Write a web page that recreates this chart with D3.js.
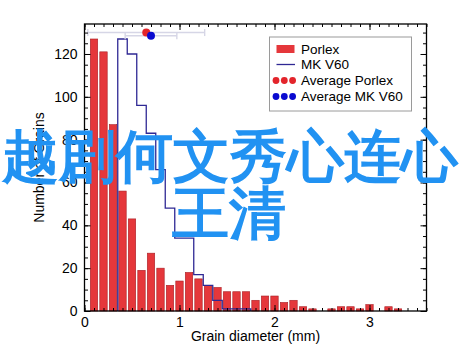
<!DOCTYPE html>
<meta charset="utf-8">
<style>
  body { margin: 0; background: #fff; }
  text { font-family: "Liberation Sans", Arial, sans-serif; }
</style>
<body>
<svg width="460" height="354"></svg>
<script src="https://cdn.jsdelivr.net/npm/d3@7/dist/d3.min.js"></script>
<script>
  // Porlex histogram (bin centres, mm)
  var porlexCenters = [0.1, 0.2, 0.3, 0.4, 0.5, 0.6, 0.7, 0.8, 0.9, 1.0, 1.1, 1.2, 1.3, 1.4, 1.5, 1.6, 1.7,
    1.8, 1.9, 2.0, 2.1, 2.2, 2.3, 2.4, 2.5, 2.6, 2.7, 2.8, 2.9, 3.0, 3.1, 3.2, 3.3, 3.4];
  var porlexCounts = [127, 121, 87, 56, 43, 19, 27, 20, 12, 14, 18, 15, 12, 11, 9, 9, 9,
    5, 7, 7, 4, 5, 2, 1, 0, 1, 2, 2, 1, 3, 0, 2, 1, 0];

  // MK V60 step histogram (bin lower edges, mm)
  var mkEdges = [0.35, 0.45, 0.55, 0.65, 0.75, 0.85, 0.95, 1.05, 1.15, 1.25, 1.35, 1.45, 1.55, 1.65];
  var mkCounts = [127, 120, 96, 83, 66, 48, 34, 34, 17, 12, 5, 1, 1, 1];
  var mkBinWidth = 0.1;

  // averages with spread
  var avgNames = ['Average Porlex', 'Average MK V60'];
  var avgMeans = [0.65, 0.70];
  var avgSpread = [0.615, 0.272];
  var avgLevels = [130, 128.5];
  var avgColors = ['#e3242b', '#0a0ad0'];

  var xTicks = [0, 1, 2, 3];
  var yTicks = [0, 20, 40, 60, 80, 100, 120];

  var barColor = '#e5373b';
  var lineColor = '#2f2894';

  var svg = d3.select('svg');
  var x = d3.scaleLinear().domain([0, 3.6]).range([84.5, 426.5]);
  var y = d3.scaleLinear().domain([0, 134]).range([311, 24]);

  var g = svg.append('g');

  // bars
  var barHalf = 0.039;
  g.selectAll('.bar')
    .data(porlexCenters.map(function (c, i) { return {c: c, v: porlexCounts[i]}; }))
    .enter().append('rect')
    .filter(function (d) { return d.v > 0; })
    .attr('class', 'bar')
    .attr('x', function (d) { return x(d.c - barHalf); })
    .attr('width', function (d) { return x(d.c + barHalf) - x(d.c - barHalf); })
    .attr('y', function (d) { return y(d.v); })
    .attr('height', function (d) { return y(0) - y(d.v); })
    .attr('fill', barColor)
    .attr('stroke', '#a81f25')
    .attr('stroke-width', 0.6);

  // step line
  var stepPts = [{x: mkEdges[0], y: 0}];
  mkEdges.forEach(function (e, i) {
    stepPts.push({x: e, y: mkCounts[i]});
    stepPts.push({x: e + mkBinWidth, y: mkCounts[i]});
  });
  stepPts.push({x: mkEdges[mkEdges.length - 1] + mkBinWidth, y: 0});

  var line = d3.line()
    .x(function (d) { return x(d.x); })
    .y(function (d) { return y(d.y); });

  g.append('path')
    .attr('d', line(stepPts))
    .attr('fill', 'none')
    .attr('stroke', lineColor)
    .attr('stroke-width', 1.3);

  // error bars + average dots
  avgMeans.forEach(function (m, i) {
    var lo = x(m - avgSpread[i]), hi = x(m + avgSpread[i]), yy = y(avgLevels[i]);
    g.append('line')
      .attr('x1', lo).attr('x2', hi).attr('y1', yy).attr('y2', yy)
      .attr('stroke', '#d6d6e6').attr('stroke-width', 1.4);
    [lo, hi].forEach(function (px) {
      g.append('line')
        .attr('x1', px).attr('x2', px).attr('y1', yy - 3.5).attr('y2', yy + 3.5)
        .attr('stroke', '#d6d6e6').attr('stroke-width', 1.4);
    });
  });
  avgMeans.forEach(function (m, i) {
    g.append('circle')
      .attr('cx', x(m)).attr('cy', y(avgLevels[i]))
      .attr('r', 4)
      .attr('fill', avgColors[i]);
  });

  // axes
  var minorX = d3.range(0, 3.61, 0.1);
  var minorY = d3.range(0, 134, 5);
  var fontSize = '14px';

  function styleAxis(sel) {
    sel.select('.domain').remove();
    sel.selectAll('line').attr('stroke', '#000').attr('stroke-width', 1);
    sel.selectAll('text').style('font-size', fontSize).attr('fill', '#000');
  }

  svg.append('g').attr('transform', 'translate(0,' + y(0) + ')')
    .call(d3.axisBottom(x).tickValues(minorX).tickSize(-3).tickFormat('')).call(styleAxis);
  svg.append('g').attr('transform', 'translate(0,' + y(0) + ')')
    .call(d3.axisBottom(x).tickValues(xTicks).tickSize(-6).tickPadding(6).tickFormat(d3.format('d'))).call(styleAxis);
  svg.append('g').attr('transform', 'translate(0,' + y(134) + ')')
    .call(d3.axisTop(x).tickValues(minorX).tickSize(-3).tickFormat('')).call(styleAxis);
  svg.append('g').attr('transform', 'translate(0,' + y(134) + ')')
    .call(d3.axisTop(x).tickValues(xTicks).tickSize(-6).tickFormat('')).call(styleAxis);

  svg.append('g').attr('transform', 'translate(' + x(0) + ',0)')
    .call(d3.axisLeft(y).tickValues(minorY).tickSize(-3.5).tickFormat('')).call(styleAxis);
  svg.append('g').attr('transform', 'translate(' + x(0) + ',0)')
    .call(d3.axisLeft(y).tickValues(yTicks).tickSize(-6).tickPadding(7)).call(styleAxis);
  svg.append('g').attr('transform', 'translate(' + x(3.6) + ',0)')
    .call(d3.axisRight(y).tickValues(minorY).tickSize(-3.5).tickFormat('')).call(styleAxis);
  svg.append('g').attr('transform', 'translate(' + x(3.6) + ',0)')
    .call(d3.axisRight(y).tickValues(yTicks).tickSize(-6).tickFormat('')).call(styleAxis);

  svg.append('rect')
    .attr('x', x(0)).attr('y', y(134))
    .attr('width', x(3.6) - x(0)).attr('height', y(0) - y(134))
    .attr('fill', 'none').attr('stroke', '#000').attr('stroke-width', 1.3);

  svg.append('text')
    .attr('x', (x(0) + x(3.6)) / 2).attr('y', 341)
    .attr('text-anchor', 'middle').style('font-size', fontSize)
    .text('Grain diameter (mm)');
  svg.append('text')
    .attr('transform', 'translate(44,' + (y(0) + y(134)) / 2 + ') rotate(-90)')
    .attr('text-anchor', 'middle').style('font-size', fontSize)
    .text('Number of Grains');

  // legend
  var leg = svg.append('g');
  leg.append('rect')
    .attr('x', 269.5).attr('y', 37).attr('width', 142).attr('height', 74)
    .attr('fill', '#fff').attr('stroke', '#9a9a9a').attr('stroke-width', 1);
  var legNames = ['Porlex', 'MK V60'].concat(avgNames);
  var rowY = [49, 64.5, 80.5, 96.5];
  legNames.forEach(function (n, i) {
    leg.append('text')
      .attr('x', 301).attr('y', rowY[i] + 4.8)
      .style('font-size', '13.5px')
      .text(n);
  });
  leg.append('rect')
    .attr('x', 276.5).attr('y', rowY[0] - 4).attr('width', 18).attr('height', 8)
    .attr('fill', barColor);
  leg.append('line')
    .attr('x1', 276.5).attr('x2', 295).attr('y1', rowY[1]).attr('y2', rowY[1])
    .attr('stroke', lineColor).attr('stroke-width', 1.3);
  [0, 1].forEach(function (k) {
    [276, 284.3, 292.6].forEach(function (cx) {
      leg.append('circle')
        .attr('cx', cx).attr('cy', rowY[2 + k]).attr('r', 3.4)
        .attr('fill', avgColors[k]);
    });
  });

  // overlay text
  var over = svg.append('g')
    .style('font-family', '"Noto Sans CJK SC", sans-serif')
    .style('font-weight', 700)
    .style('font-size', '57px')
    .attr('fill', '#2192f2')
    .attr('text-anchor', 'middle');
  over.append('text').attr('x', 230).attr('y', 176).text('越剧何文秀心连心');
  over.append('text').attr('x', 229).attr('y', 233).text('王清');
</script>
</body>
